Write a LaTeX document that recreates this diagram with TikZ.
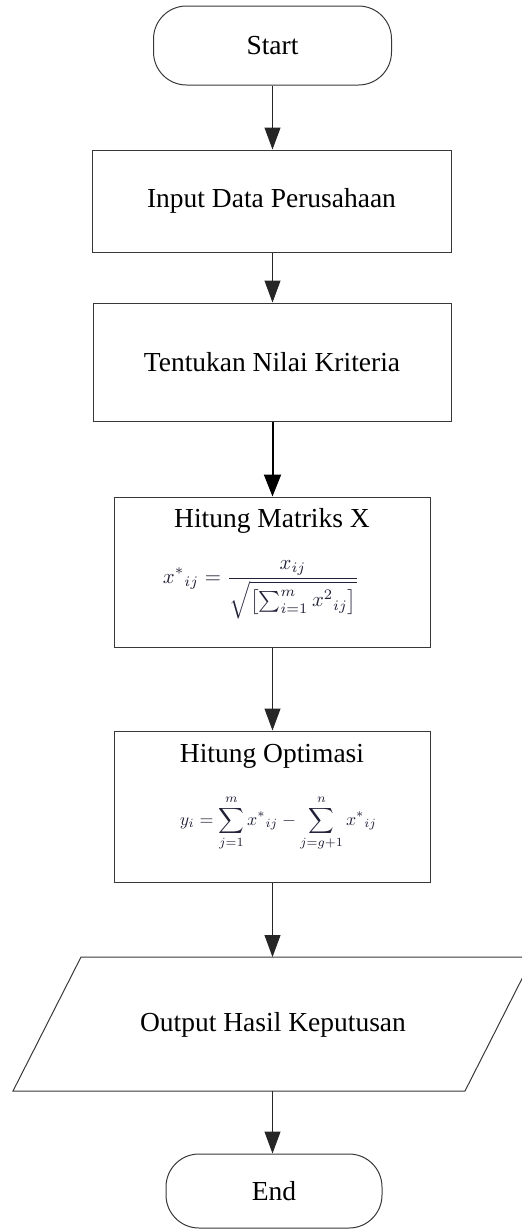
\documentclass[tikz,border=0pt]{standalone}
\usepackage{fontspec}
\setmainfont{Liberation Serif}
\usepackage{graphicx}
\usetikzlibrary{arrows.meta}
\definecolor{edgecol}{rgb}{0.22,0.22,0.22}
\definecolor{mathcol}{rgb}{0.13,0.13,0.22}
\tikzset{
  base/.style={draw=edgecol, line width=1pt, inner sep=0pt, font=\fontsize{27.5}{33}\selectfont},
  term/.style={base, rounded corners=33pt},
  procbox/.style={base, rectangle},
  lbl/.style={inner sep=0pt, font=\fontsize{27.5}{33}\selectfont},
  fml/.style={inner sep=0pt, text=mathcol},
  arr/.style={draw=black!85, line width=1pt, -{Triangle[length=22pt,width=16pt]}},
  thickarr/.style={draw=black, line width=2pt, -{Triangle[length=22pt,width=17pt]}},
}
\begin{document}
\begin{tikzpicture}[x=1pt,y=-1pt]
\useasboundingbox (0,0) rectangle (522,1229);
\clip (0,0) rectangle (522,1229);

% Start
\node[term, minimum width=238pt, minimum height=79pt] (start) at (272.5,45.5) {Start};

% Input Data Perusahaan
\node[procbox, minimum width=359pt, minimum height=102pt] (input) at (271.5,201) {Input Data Perusahaan};

% Tentukan Nilai Kriteria
\node[procbox, minimum width=358pt, minimum height=118pt] (kriteria) at (272,362) {Tentukan Nilai Kriteria};

% Hitung Matriks X
\node[procbox, minimum width=316pt, minimum height=150pt] (matriks) at (272,572) {};
\node[lbl] (matrikst) at (272,521) {Hitung Matriks X};
\node[fml] (matriksf) at (261,590) {\resizebox{196pt}{!}{$\displaystyle x^{*}{}_{ij} = \frac{x_{ij}}{\sqrt{\left[\textstyle\sum_{i=1}^{m} x^{2}{}_{ij}\right]}}$}};

% Hitung Optimasi
\node[procbox, minimum width=316pt, minimum height=151pt] (optim) at (272,806.5) {};
\node[lbl] (optimt) at (272,756) {Hitung Optimasi};
\node[fml] (optimf) at (278.5,823) {\resizebox{197pt}{!}{$\displaystyle y_{i} = \sum_{j=1}^{m} x^{*}{}_{ij} - \sum_{j=g+1}^{n} x^{*}{}_{ij}$}};

% Output Hasil Keputusan (parallelogram)
\draw[draw=edgecol, line width=1pt] (81,957) -- (533,957) -- (465,1091) -- (13,1091) -- cycle;
\node[lbl] (output) at (273,1025) {Output Hasil Keputusan};
\coordinate (outtop) at (272.5,957);
\coordinate (outbot) at (272.5,1091);

% End
\node[term, minimum width=216pt, minimum height=74pt] (end) at (274,1191) {End};

% Connectors
\draw[arr] (start.south -| 272.5,0) -- (input.north -| 272.5,0);
\draw[arr] (input.south -| 272.5,0) -- (kriteria.north -| 272.5,0);
\draw[thickarr] (kriteria.south -| 272.5,0) -- (matriks.north -| 272.5,0);
\draw[arr] (matriks.south -| 272.5,0) -- (optim.north -| 272.5,0);
\draw[arr] (optim.south -| 272.5,0) -- (outtop);
\draw[arr] (outbot) -- (end.north -| 272.5,0);
\end{tikzpicture}
\end{document}
